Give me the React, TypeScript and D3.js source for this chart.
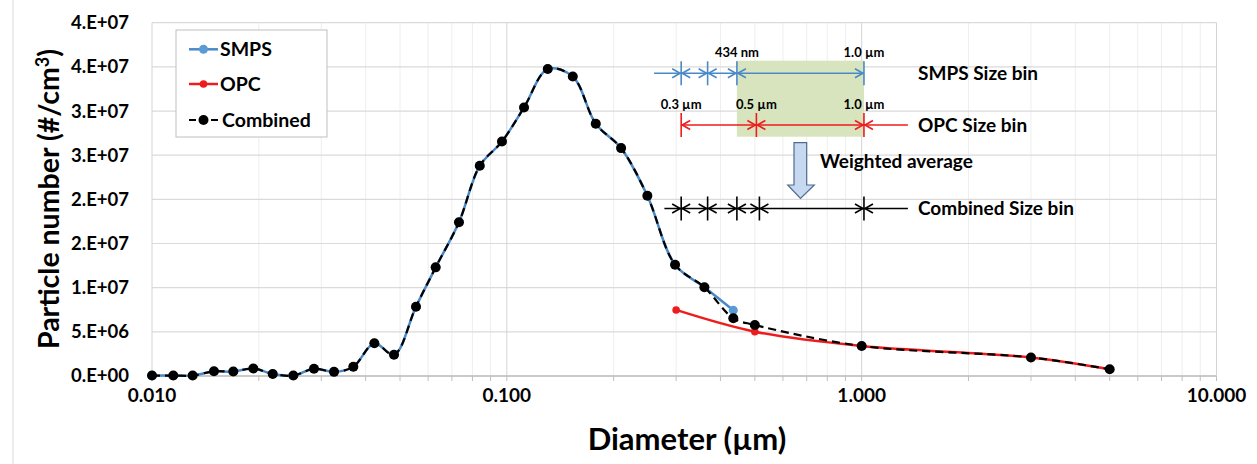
import React from 'react';
import * as d3 from 'd3';

// particle size distribution (diameter in µm, number in #/cm3)
const smpsDiameter = [0.0100, 0.01148, 0.01302, 0.01495, 0.01695, 0.0193, 0.02189, 0.02502, 0.02861, 0.03258,
  0.03693, 0.04233, 0.04809, 0.05546, 0.06302, 0.0733, 0.0839, 0.0969, 0.1118, 0.1304,
  0.1534, 0.1781, 0.2099, 0.2489, 0.2979, 0.3604, 0.4347];
const smpsNumber = [0.05e6, 0.05e6, 0.05e6, 0.53e6, 0.5e6, 0.85e6, 0.23e6, 0.05e6, 0.83e6, 0.47e6,
  1.05e6, 3.7e6, 2.41e6, 7.85e6, 12.3e6, 17.4e6, 23.8e6, 26.55e6, 30.4e6, 34.75e6,
  33.9e6, 28.55e6, 25.8e6, 20.4e6, 12.6e6, 10.05e6, 7.45e6];

const opcDiameter = [0.3, 0.5, 1.0, 3.0, 5.0];
const opcNumber = [7.48e6, 5.02e6, 3.4e6, 2.1e6, 0.76e6];

const combinedDiameter = [0.0100, 0.01148, 0.01302, 0.01495, 0.01695, 0.0193, 0.02189, 0.02502, 0.02861, 0.03258,
  0.03693, 0.04233, 0.04809, 0.05546, 0.06302, 0.0733, 0.0839, 0.0969, 0.1118, 0.1304,
  0.1534, 0.1781, 0.2099, 0.2489, 0.2979, 0.3604, 0.4347, 0.5, 1.0, 3.0, 5.0];
const combinedNumber = [0.05e6, 0.05e6, 0.05e6, 0.53e6, 0.5e6, 0.85e6, 0.23e6, 0.05e6, 0.83e6, 0.47e6,
  1.05e6, 3.7e6, 2.41e6, 7.85e6, 12.3e6, 17.4e6, 23.8e6, 26.55e6, 30.4e6, 34.75e6,
  33.9e6, 28.55e6, 25.8e6, 20.4e6, 12.6e6, 10.05e6, 6.54e6, 5.78e6, 3.4e6, 2.1e6, 0.76e6];

const yTicks = [0, 5e6, 10e6, 15e6, 20e6, 25e6, 30e6, 35e6, 40e6];
const yTickLabels = ['0.E+00', '5.E+06', '1.E+07', '2.E+07', '2.E+07', '3.E+07', '3.E+07', '4.E+07', '4.E+07'];
const xTicks = [0.01, 0.1, 1, 10];
const xTickLabels = ['0.010', '0.100', '1.000', '10.000'];

// size-bin sketch (diameters in µm)
const smpsBinEdges = [0.31, 0.368, 0.445, 1.015];
const smpsBinStart = 0.26;
const opcBinEdges = [0.31, 0.505, 1.015];
const opcBinEnd = 1.35;
const combinedBinEdges = [0.31, 0.368, 0.445, 0.515, 1.015];
const combinedBinStart = 0.278;
const combinedBinEnd = 1.35;

const W = 1257;
const H = 464;
const FONT = "Lato, 'Open Sans', sans-serif";

const BLUE = '#4a89c8';
const BLUE_MK = '#5b9bd5';
const RED = '#ee1c1c';

export default function App() {
  const x = d3.scaleLog().domain([0.01, 10]).range([152, 1216.5]);
  const y = d3.scaleLinear().domain([0, 40e6]).range([376, 22.7]);

  const line = d3.line<[number, number]>()
    .x(d => x(d[0]))
    .y(d => y(d[1]))
    .curve(d3.curveCatmullRom.alpha(0.5));

  const smps = smpsDiameter.map((d, i) => [d, smpsNumber[i]] as [number, number]);
  const opc = opcDiameter.map((d, i) => [d, opcNumber[i]] as [number, number]);
  const comb = combinedDiameter.map((d, i) => [d, combinedNumber[i]] as [number, number]);

  const minor: number[] = [];
  [0.01, 0.1, 1].forEach(dec => { for (let k = 2; k <= 9; k++) minor.push(dec * k); });

  // arrow heads pointing at a tick
  const head = (px: number, py: number, dir: number) =>
    `M${px - dir * 8},${py - 4.5}L${px},${py}L${px - dir * 8},${py + 4.5}`;

  const binRow = (edges: number[], rowY: number, half: number, color: string, start?: number, end?: number) => {
    const els: React.ReactNode[] = [];
    const x0 = start !== undefined ? x(start) : x(edges[0]);
    const x1 = end !== undefined ? x(end) : x(edges[edges.length - 1]);
    els.push(<line key="base" x1={x0} x2={x1} y1={rowY} y2={rowY} stroke={color} strokeWidth={1.6} />);
    edges.forEach((e, i) => {
      const px = x(e);
      els.push(<line key={'t' + i} x1={px} x2={px} y1={rowY - half} y2={rowY + half} stroke={color} strokeWidth={1.6} />);
      const hasLeft = i > 0 || start !== undefined;
      const hasRight = i < edges.length - 1 || end !== undefined;
      let d = '';
      if (hasLeft) d += head(px - 1, rowY, 1);
      if (hasRight) d += head(px + 1, rowY, -1);
      els.push(<path key={'h' + i} d={d} fill="none" stroke={color} strokeWidth={1.6} />);
    });
    return els;
  };

  return (
    <div style={{ position: 'absolute', left: 0, top: 0 }}>
      <svg width={W} height={H} style={{ display: 'block', background: '#fff' }}>
        <line x1={13} x2={13} y1={0} y2={H} stroke="#d9d9d9" />

        {/* gridlines */}
        {minor.map(v => (
          <line key={'mg' + v} x1={x(v)} x2={x(v)} y1={y(40e6)} y2={y(0)} stroke="#eeeeee" />
        ))}
        {yTicks.map(v => (
          <line key={'hg' + v} x1={x(0.01)} x2={x(10)} y1={y(v)} y2={y(v)} stroke="#dadada" strokeWidth={1.2} />
        ))}
        {xTicks.map(v => (
          <line key={'vg' + v} x1={x(v)} x2={x(v)} y1={y(40e6)} y2={y(0)} stroke="#d4d4d4" />
        ))}

        {/* x axis */}
        <line x1={x(0.01)} x2={x(10)} y1={y(0)} y2={y(0)} stroke="#bfbfbf" strokeWidth={1.5} />
        {[...minor, ...xTicks].map(v => (
          <line key={'xt' + v} x1={x(v)} x2={x(v)} y1={y(0)} y2={y(0) + 5} stroke="#bfbfbf" />
        ))}
        {xTicks.map((v, i) => (
          <text key={'xl' + v} x={x(v)} y={402} textAnchor="middle" fontFamily={FONT} fontWeight="bold" fontSize={19} fill="#000">
            {xTickLabels[i]}
          </text>
        ))}
        {yTicks.map((v, i) => (
          <text key={'yl' + v} x={129} y={y(v)} dy="0.35em" textAnchor="end" fontFamily={FONT} fontWeight="bold" fontSize={18.5} fill="#000">
            {yTickLabels[i]}
          </text>
        ))}

        {/* axis titles */}
        <text x={687} y={450} textAnchor="middle" fontFamily={FONT} fontWeight="bold" fontSize={31} fill="#000">
          Diameter (µm)
        </text>
        <text transform="translate(59,199) rotate(-90)" textAnchor="middle" fontFamily={FONT} fontWeight="bold" fontSize={28.5} fill="#000">
          Particle number (#/cm<tspan dy={-10} fontSize={18}>3</tspan><tspan dy={10}>)</tspan>
        </text>

        {/* size bin sketch */}
        <rect x={x(0.445)} y={60.7} width={x(1.015) - x(0.445)} height={76} fill="#d7e4bd" />
        {binRow(smpsBinEdges, 73.3, 12, BLUE, smpsBinStart)}
        {binRow(opcBinEdges, 125, 12, RED, undefined, opcBinEnd)}
        {binRow(combinedBinEdges, 208.5, 12, '#000', combinedBinStart, combinedBinEnd)}
        <text x={x(0.445)} y={52.7} dy="0.35em" textAnchor="middle" fontFamily={FONT} fontWeight="bold" fontSize={13}>434 nm</text>
        <text x={x(1.015)} y={52.7} dy="0.35em" textAnchor="middle" fontFamily={FONT} fontWeight="bold" fontSize={13}>1.0 µm</text>
        <text x={x(0.31)} y={104} dy="0.35em" textAnchor="middle" fontFamily={FONT} fontWeight="bold" fontSize={13}>0.3 µm</text>
        <text x={x(0.505)} y={104} dy="0.35em" textAnchor="middle" fontFamily={FONT} fontWeight="bold" fontSize={13}>0.5 µm</text>
        <text x={x(1.015)} y={104} dy="0.35em" textAnchor="middle" fontFamily={FONT} fontWeight="bold" fontSize={13}>1.0 µm</text>
        <text x={918} y={73.3} dy="0.35em" fontFamily={FONT} fontWeight="bold" fontSize={19}>SMPS Size bin</text>
        <text x={918} y={125} dy="0.35em" fontFamily={FONT} fontWeight="bold" fontSize={19}>OPC Size bin</text>
        <text x={918} y={208.5} dy="0.35em" fontFamily={FONT} fontWeight="bold" fontSize={19}>Combined Size bin</text>
        <text x={820} y={161.7} dy="0.35em" fontFamily={FONT} fontWeight="bold" fontSize={19}>Weighted average</text>
        <path d="M794,142.7L806.7,142.7L806.7,185L814.3,185L800.5,198.5L787.7,185L794,185Z" fill="#c6d9f0" stroke="#4f6b8f" strokeWidth={1.2} />

        {/* series */}
        <path d={line(smps) || ''} fill="none" stroke={BLUE} strokeWidth={2.5} />
        {smps.map((d, i) => <circle key={'sm' + i} cx={x(d[0])} cy={y(d[1])} r={4.5} fill={BLUE_MK} />)}
        <path d={line(opc) || ''} fill="none" stroke={RED} strokeWidth={2.5} />
        {opc.map((d, i) => <circle key={'op' + i} cx={x(d[0])} cy={y(d[1])} r={3.8} fill={RED} />)}
        <path d={line(comb) || ''} fill="none" stroke="#000" strokeWidth={2.2} strokeDasharray="8,5" />
        {comb.map((d, i) => <circle key={'cb' + i} cx={x(d[0])} cy={y(d[1])} r={5} fill="#000" />)}

        {/* legend */}
        <rect x={176} y={30} width={151} height={107} fill="#fff" stroke="#bfbfbf" />
        <line x1={189} x2={218} y1={49.3} y2={49.3} stroke={BLUE} strokeWidth={2.5} />
        <circle cx={203.5} cy={49.3} r={4.5} fill={BLUE_MK} />
        <text x={220} y={49.3} dy="0.35em" fontFamily={FONT} fontWeight="bold" fontSize={19.5}>SMPS</text>
        <line x1={189} x2={218} y1={84} y2={84} stroke={RED} strokeWidth={2.5} />
        <circle cx={203.5} cy={84} r={3.8} fill={RED} />
        <text x={220} y={84} dy="0.35em" fontFamily={FONT} fontWeight="bold" fontSize={19.5}>OPC</text>
        <line x1={189} x2={218} y1={120} y2={120} stroke="#000" strokeWidth={2.2} strokeDasharray="7,4" />
        <circle cx={203.5} cy={120} r={5} fill="#000" />
        <text x={222} y={120} dy="0.35em" fontFamily={FONT} fontWeight="bold" fontSize={19.5}>Combined</text>
      </svg>
    </div>
  );
}
